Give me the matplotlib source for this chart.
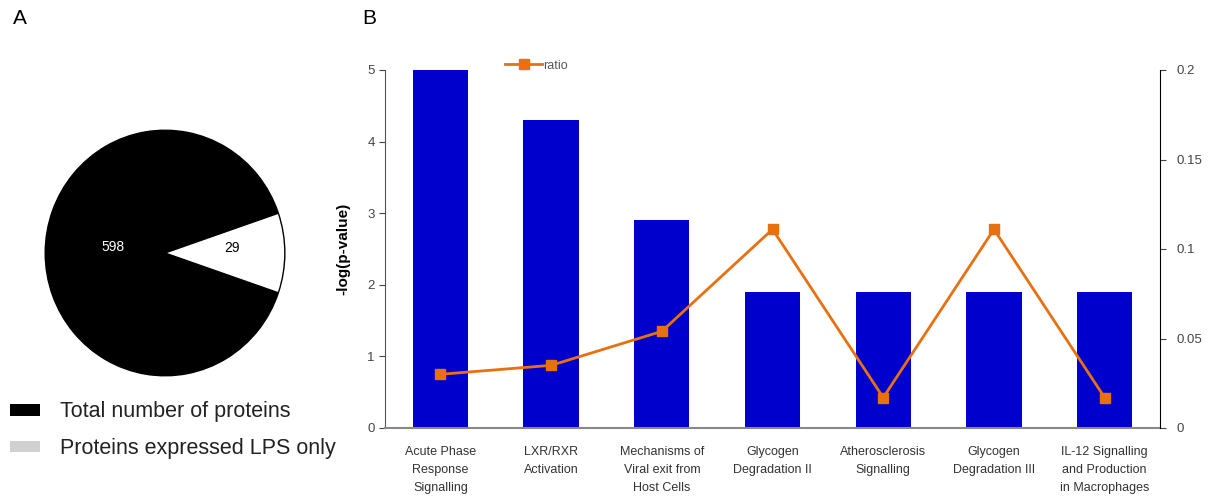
import numpy as np
import matplotlib
matplotlib.use("Agg")
import matplotlib.pyplot as plt
from matplotlib.patches import Patch

plt.rcParams['font.family'] = ['Liberation Sans', 'DejaVu Sans']

# panel A data
pie_labels = ["Total number of proteins", "Proteins expressed LPS only"]
pie_counts = [598, 29]
pie_share = [0.895, 0.105]   # slice sizes as drawn in the picture

# panel B data
pathways = ["Acute Phase\nResponse\nSignalling", "LXR/RXR\nActivation",
            "Mechanisms of\nViral exit from\nHost Cells", "Glycogen\nDegradation II",
            "Atherosclerosis\nSignalling", "Glycogen\nDegradation III",
            "IL-12 Signalling\nand Production\nin Macrophages"]
neg_log_p = [5.0, 4.3, 2.9, 1.9, 1.9, 1.9, 1.9]
ratio = [0.030, 0.035, 0.054, 0.111, 0.017, 0.111, 0.017]

fig = plt.figure(figsize=(12.12, 5), dpi=100)

# ---- A: pie ----
axp = fig.add_axes([0.0363, 0.246, 0.1997, 0.496])
wedges, _ = axp.pie(pie_share, colors=["black", "white"], startangle=-pie_share[1] * 180,
                    counterclock=False, wedgeprops=dict(edgecolor="black", linewidth=1))
axp.set_xlim(-1.01, 1.01)
axp.set_ylim(-1.01, 1.01)
axp.set_aspect("auto")
axp.text(-0.43, 0.05, str(pie_counts[0]), color="white", ha="center", va="center", fontsize=10)
axp.text(0.56, 0.04, str(pie_counts[1]), color="black", ha="center", va="center", fontsize=10)

handles = [Patch(facecolor="black"), Patch(facecolor="#d0d0d0")]
fig.legend(handles, pie_labels, loc="upper left", bbox_to_anchor=(0.0085, 0.197),
           frameon=False, fontsize=15.5, handlelength=1.4, handleheight=0.45,
           labelspacing=0.72, handletextpad=0.9, borderpad=0, borderaxespad=0,
           labelcolor="#222222")

fig.text(0.011, 0.962, "A", fontsize=15, va="center")
fig.text(0.299, 0.962, "B", fontsize=15, va="center")

# ---- B: bars + ratio ----
ax = fig.add_axes([0.3177, 0.144, 0.6394, 0.716])
x = np.arange(len(pathways))
ax.bar(x, neg_log_p, width=0.5, color="#0000CC")
ax.set_xlim(-0.5, len(pathways) - 0.5)
ax.set_ylim(0, 5)
ax.set_yticks(range(6))
ax.set_xticks(x)
ax.set_xticklabels(pathways, fontsize=9, color="#333333", linespacing=1.65)
ax.tick_params(axis="x", length=0, pad=13)
ax.tick_params(axis="y", labelsize=9.5, colors="#444444", length=4, direction="out")
ax.set_ylabel("-log(p-value)", fontsize=11, fontweight="bold", labelpad=12)
ax.spines["top"].set_visible(False)
ax.spines["right"].set_visible(False)
ax.spines["bottom"].set_color("#888888")
ax.spines["bottom"].set_linewidth(1.5)
ax.spines["left"].set_color("#555555")

ax2 = ax.twinx()
ax2.plot(x, ratio, color="#E8700F", marker="s", markersize=7, linewidth=2, label="ratio")
ax2.set_ylim(0, 0.2)
ax2.set_yticks([0, 0.05, 0.1, 0.15, 0.2])
ax2.set_yticklabels(["0", "0.05", "0.1", "0.15", "0.2"])
ax2.tick_params(axis="y", labelsize=9.5, colors="#444444", length=4, direction="out", pad=8)
ax2.spines["top"].set_visible(False)
ax2.spines["left"].set_visible(False)
ax2.spines["bottom"].set_visible(False)
ax2.legend(loc="upper left", bbox_to_anchor=(0.14, 1.06), frameon=False, fontsize=9,
           handlelength=3, handletextpad=0.1, labelcolor="#555555")

fig.savefig("out.png", dpi=100)
